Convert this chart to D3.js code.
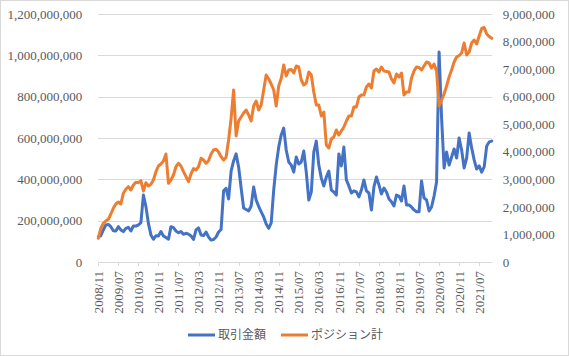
<!DOCTYPE html>
<html><head><meta charset="utf-8">
<script src="https://cdn.jsdelivr.net/npm/d3@7"></script>
<style>body{margin:0;background:#fff}svg{display:block}</style>
</head><body><svg id="c" width="569" height="356"></svg>
<script>
const months = [
"2008/11","2008/12",
"2009/01","2009/02","2009/03","2009/04","2009/05","2009/06","2009/07","2009/08","2009/09","2009/10","2009/11","2009/12",
"2010/01","2010/02","2010/03","2010/04","2010/05","2010/06","2010/07","2010/08","2010/09","2010/10","2010/11","2010/12",
"2011/01","2011/02","2011/03","2011/04","2011/05","2011/06","2011/07","2011/08","2011/09","2011/10","2011/11","2011/12",
"2012/01","2012/02","2012/03","2012/04","2012/05","2012/06","2012/07","2012/08","2012/09","2012/10","2012/11","2012/12",
"2013/01","2013/02","2013/03","2013/04","2013/05","2013/06","2013/07","2013/08","2013/09","2013/10","2013/11","2013/12",
"2014/01","2014/02","2014/03","2014/04","2014/05","2014/06","2014/07","2014/08","2014/09","2014/10","2014/11","2014/12",
"2015/01","2015/02","2015/03","2015/04","2015/05","2015/06","2015/07","2015/08","2015/09","2015/10","2015/11","2015/12",
"2016/01","2016/02","2016/03","2016/04","2016/05","2016/06","2016/07","2016/08","2016/09","2016/10","2016/11","2016/12",
"2017/01","2017/02","2017/03","2017/04","2017/05","2017/06","2017/07","2017/08","2017/09","2017/10","2017/11","2017/12",
"2018/01","2018/02","2018/03","2018/04","2018/05","2018/06","2018/07","2018/08","2018/09","2018/10","2018/11","2018/12",
"2019/01","2019/02","2019/03","2019/04","2019/05","2019/06","2019/07","2019/08","2019/09","2019/10","2019/11","2019/12",
"2020/01","2020/02","2020/03","2020/04","2020/05","2020/06","2020/07","2020/08","2020/09","2020/10","2020/11","2020/12",
"2021/01","2021/02","2021/03","2021/04","2021/05","2021/06","2021/07","2021/08","2021/09","2021/10","2021/11","2021/12"
];

// 取引金額 (left axis)
const tradeAmount = [
122e6,127e6,
155e6,179e6,182e6,171e6,151e6,150e6,171e6,155e6,147e6,163e6,168e6,150e6,
174e6,174e6,179e6,190e6,324e6,268e6,187e6,131e6,110e6,127e6,126e6,147e6,
126e6,118e6,110e6,171e6,166e6,150e6,142e6,147e6,134e6,139e6,135e6,126e6,
109e6,155e6,165e6,131e6,128e6,145e6,121e6,106e6,109e6,121e6,145e6,157e6,
344e6,356e6,305e6,440e6,489e6,523e6,460e6,358e6,261e6,254e6,247e6,271e6,
363e6,300e6,269e6,243e6,218e6,184e6,163e6,189e6,348e6,469e6,556e6,615e6,
648e6,542e6,484e6,469e6,435e6,508e6,474e6,484e6,537e6,435e6,300e6,339e6,
532e6,585e6,469e6,406e6,368e6,411e6,440e6,348e6,339e6,324e6,523e6,465e6,
556e6,397e6,368e6,334e6,344e6,339e6,315e6,348e6,397e6,344e6,334e6,252e6,
363e6,411e6,373e6,329e6,358e6,339e6,305e6,292e6,271e6,324e6,319e6,295e6,
368e6,276e6,276e6,266e6,252e6,243e6,243e6,392e6,310e6,300e6,247e6,266e6,
319e6,387e6,1016e6,697e6,455e6,532e6,469e6,508e6,547e6,503e6,600e6,542e6,
455e6,503e6,624e6,552e6,494e6,450e6,465e6,435e6,460e6,561e6,581e6,585e6
];

// ポジション計 (right axis)
const positionTotal = [
860e3,1223e3,
1404e3,1488e3,1550e3,1742e3,1949e3,2105e3,2177e3,2105e3,2493e3,2638e3,2733e3,2613e3,
2794e3,2892e3,2878e3,2950e3,2577e3,2878e3,2758e3,2820e3,2976e3,3277e3,3484e3,3556e3,
3665e3,3919e3,2856e3,2976e3,3157e3,3458e3,3582e3,3484e3,3277e3,3096e3,2914e3,3194e3,
3393e3,3339e3,3458e3,3763e3,3702e3,3582e3,3676e3,3919e3,4064e3,4090e3,3992e3,3821e3,
3702e3,3800e3,4427e3,5215e3,6242e3,4573e3,5117e3,5262e3,5407e3,5516e3,5335e3,5117e3,
5661e3,5843e3,5516e3,5698e3,6242e3,6786e3,6641e3,6460e3,6242e3,5661e3,6387e3,6659e3,
7149e3,6750e3,6968e3,6986e3,6859e3,7113e3,7077e3,6605e3,6423e3,6496e3,6895e3,6786e3,
6169e3,5698e3,5698e3,5298e3,5444e3,4246e3,4137e3,4464e3,4536e3,4790e3,4609e3,4754e3,
4899e3,5117e3,5298e3,5298e3,5625e3,5625e3,5988e3,6060e3,6060e3,6351e3,6460e3,6314e3,
6931e3,7004e3,6895e3,7077e3,6931e3,6913e3,6895e3,6641e3,6496e3,6823e3,6714e3,6859e3,
6060e3,6169e3,6169e3,6677e3,6931e3,7077e3,7058e3,6968e3,7113e3,7258e3,7222e3,7040e3,
7185e3,6931e3,5661e3,5879e3,6097e3,6387e3,6714e3,6968e3,7258e3,7439e3,7494e3,7585e3,
7948e3,7512e3,7621e3,7948e3,8056e3,7911e3,8202e3,8474e3,8510e3,8274e3,8183e3,8118e3
];

const leftTicks = [0,200e6,400e6,600e6,800e6,1000e6,1200e6];
const rightTicks = [0,1e6,2e6,3e6,4e6,5e6,6e6,7e6,8e6,9e6];
const xTickLabels = ["2008/11","2009/07","2010/03","2010/11","2011/07","2012/03","2012/11","2013/07","2014/03","2014/11","2015/07","2016/03","2016/11","2017/07","2018/03","2018/11","2019/07","2020/03","2020/11","2021/07"];
const seriesNames = ["取引金額","ポジション計"];
const seriesColors = ["#4472C4","#ED7D31"];

const svg = d3.select("#c");
const W = 569, H = 356;
const L = 98.3, R = 491.7, T = 14, B = 262;
const numFont = "'Liberation Serif','Times New Roman',serif";
const txtColor = "#595959";

svg.append("rect").attr("x",0.5).attr("y",0.5).attr("width",W-1).attr("height",H-1)
  .attr("fill","#fff").attr("stroke","#d9d9d9");

const x = d3.scalePoint().domain(months).range([L, R]);
const yL = d3.scaleLinear().domain([0,1200e6]).range([B, T]);
const yR = d3.scaleLinear().domain([0,9e6]).range([B, T]);

// gridlines
const grid = svg.append("g").attr("transform",`translate(${L},0)`)
  .call(d3.axisLeft(yL).tickValues(leftTicks.slice(1)).tickSize(-(R-L)).tickFormat(""));
grid.select(".domain").remove();
grid.selectAll("line").attr("stroke","#d9d9d9").attr("stroke-width",1)
  .attr("shape-rendering","crispEdges");

// left axis
const ax1 = svg.append("g").attr("transform",`translate(${L},0)`)
  .call(d3.axisLeft(yL).tickValues(leftTicks).tickSize(0).tickPadding(16).tickFormat(d3.format(",")));
ax1.select(".domain").remove();
ax1.selectAll("text").attr("fill",txtColor).style("font-family",numFont).style("font-size","13px");

// right axis
const ax2 = svg.append("g").attr("transform",`translate(${R},0)`)
  .call(d3.axisRight(yR).tickValues(rightTicks).tickSize(0).tickPadding(11).tickFormat(d3.format(",")));
ax2.select(".domain").remove();
ax2.selectAll("text").attr("fill",txtColor).style("font-family",numFont).style("font-size","13px");

// bottom axis
const ax3 = svg.append("g").attr("transform",`translate(0,${B})`)
  .call(d3.axisBottom(x).tickValues(xTickLabels).tickSize(4).tickPadding(4));
ax3.select(".domain").attr("stroke","#d9d9d9").attr("d",`M${L},0.5H${R}`).attr("shape-rendering","crispEdges");
ax3.selectAll(".tick line").attr("stroke","#d9d9d9").attr("shape-rendering","crispEdges");
ax3.selectAll("text")
  .attr("fill",txtColor).style("font-family",numFont).style("font-size","13px")
  .attr("transform","rotate(-90)").attr("text-anchor","end")
  .attr("x",-9).attr("y",0).attr("dy","0.32em");

// lines
const lineL = d3.line().x((d,i)=>x(months[i])).y(d=>yL(d));
const lineR = d3.line().x((d,i)=>x(months[i])).y(d=>yR(d));
svg.append("path").datum(tradeAmount).attr("d",lineL).attr("fill","none")
  .attr("stroke",seriesColors[0]).attr("stroke-width",3).attr("stroke-linejoin","round").attr("stroke-linecap","round");
svg.append("path").datum(positionTotal).attr("d",lineR).attr("fill","none")
  .attr("stroke",seriesColors[1]).attr("stroke-width",3).attr("stroke-linejoin","round").attr("stroke-linecap","round");

// legend
const legX = [188, 281];
const leg = svg.append("g");
seriesNames.forEach((name,i)=>{
  leg.append("line").attr("x1",legX[i]).attr("x2",legX[i]+27).attr("y1",335).attr("y2",335)
    .attr("stroke",seriesColors[i]).attr("stroke-width",3);
  leg.append("text").attr("x",legX[i]+30).attr("y",335).attr("dy","0.35em")
    .attr("fill",txtColor).style("font-family","'Noto Sans CJK JP','Noto Sans',sans-serif").style("font-size","12px")
    .text(name);
});
</script></body></html>
